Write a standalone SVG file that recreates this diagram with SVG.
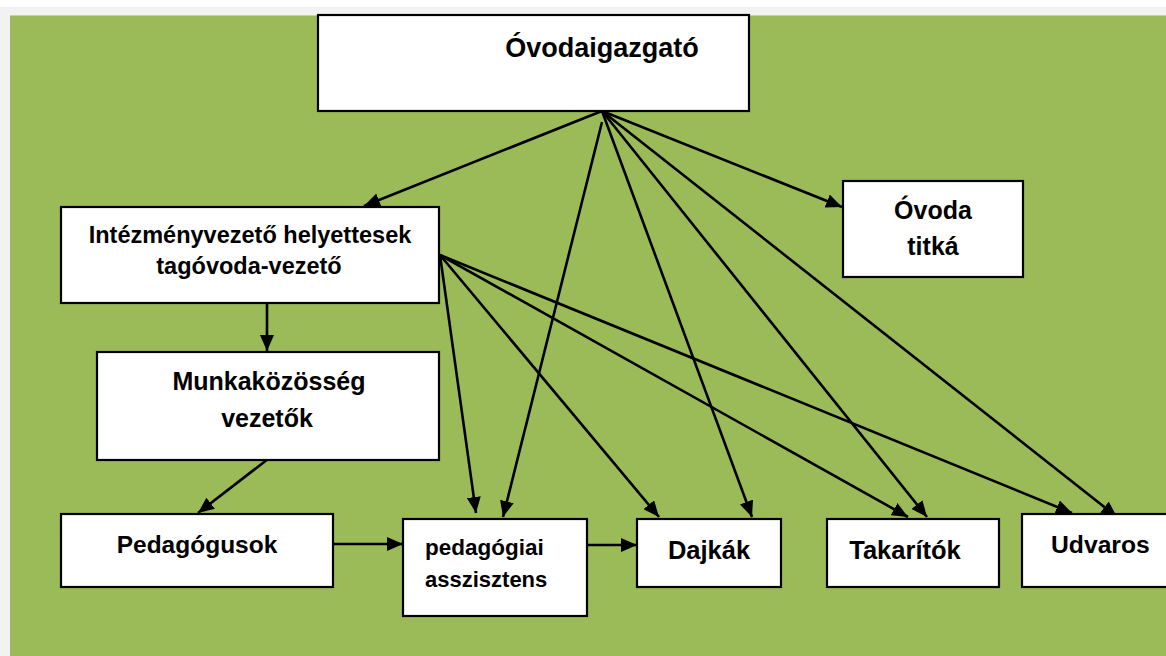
<svg xmlns="http://www.w3.org/2000/svg" width="1166" height="656" viewBox="0 0 1166 656">
  <style>
    .box { fill: #ffffff; stroke: #000000; stroke-width: 2.2; }
    .lbl { font-family: "Liberation Sans", Arial, sans-serif; font-weight: bold; fill: #000000; }
    .c { text-anchor: middle; }
    .edge { stroke: #000000; stroke-width: 2.6; fill: none; marker-end: url(#arr); }
  </style>
  <defs>
    <marker id="arr" markerUnits="userSpaceOnUse" markerWidth="16" markerHeight="14" refX="16" refY="7" orient="auto">
      <path d="M0,0 L16,7 L0,14 Z" fill="#000000"/>
    </marker>
  </defs>

  <rect x="0" y="0" width="1166" height="656" fill="#ffffff"/>
  <rect x="0" y="7" width="1166" height="649" fill="#f2f2f2"/>
  <rect x="10" y="15" width="1156" height="641" fill="#9bbb59"/>
  <line x1="10" y1="15.5" x2="1166" y2="15.5" stroke="#c3d69b" stroke-width="1"/>

  <g id="connectors">
    <line class="edge" x1="602" y1="111" x2="364" y2="206"/>
    <line class="edge" x1="602" y1="122" x2="503" y2="517"/>
    <line class="edge" x1="602" y1="111" x2="752" y2="517"/>
    <line class="edge" x1="602" y1="111" x2="927" y2="517"/>
    <line class="edge" x1="602" y1="111" x2="1117" y2="517"/>
    <line class="edge" x1="602" y1="111" x2="842" y2="207"/>
    <line class="edge" x1="440" y1="255" x2="476" y2="513"/>
    <line class="edge" x1="440" y1="255" x2="659" y2="517"/>
    <line class="edge" x1="440" y1="255" x2="908" y2="517"/>
    <line class="edge" x1="440" y1="255" x2="1072" y2="513"/>
    <line class="edge" x1="267" y1="303" x2="267" y2="351"/>
    <line class="edge" x1="268" y1="459" x2="198" y2="513"/>
    <line class="edge" x1="333" y1="544" x2="403" y2="544"/>
    <line class="edge" x1="587" y1="545" x2="637" y2="545"/>
  </g>

  <g id="ovodaigazgato">
    <rect class="box" x="318" y="15" width="431" height="96"/>
    <text class="lbl c" x="602" y="57" font-size="27">Óvodaigazgató</text>
  </g>

  <g id="intezmenyvezeto">
    <rect class="box" x="61" y="207" width="378" height="96"/>
    <text class="lbl c" x="250" y="243" font-size="23.5">Intézményvezető helyettesek</text>
    <text class="lbl c" x="249" y="274" font-size="23.5">tagóvoda-vezető</text>
  </g>

  <g id="ovoda-titka">
    <rect class="box" x="843" y="181" width="180" height="96"/>
    <text class="lbl c" x="933" y="219" font-size="25">Óvoda</text>
    <text class="lbl c" x="933" y="255" font-size="25">titká</text>
  </g>

  <g id="munkakozosseg">
    <rect class="box" x="97" y="352" width="342" height="108"/>
    <text class="lbl c" x="269" y="390" font-size="25">Munkaközösség</text>
    <text class="lbl c" x="267" y="427" font-size="25">vezetők</text>
  </g>

  <g id="pedagogusok">
    <rect class="box" x="61" y="514" width="272" height="73"/>
    <text class="lbl c" x="197" y="553" font-size="24.5">Pedagógusok</text>
  </g>

  <g id="pedagogiai-asszisztens">
    <rect class="box" x="403" y="519" width="184" height="97"/>
    <text class="lbl" x="425" y="555" font-size="22.5">pedagógiai</text>
    <text class="lbl" x="425" y="587" font-size="22">asszisztens</text>
  </g>

  <g id="dajkak">
    <rect class="box" x="637" y="519" width="144" height="68"/>
    <text class="lbl c" x="709" y="559" font-size="25.5">Dajkák</text>
  </g>

  <g id="takaritok">
    <rect class="box" x="827" y="519" width="172" height="68"/>
    <text class="lbl c" x="905" y="559" font-size="25.5">Takarítók</text>
  </g>

  <g id="udvaros">
    <rect class="box" x="1022" y="514" width="160" height="73"/>
    <text class="lbl" x="1051" y="553" font-size="24.7">Udvaros</text>
  </g>
</svg>
